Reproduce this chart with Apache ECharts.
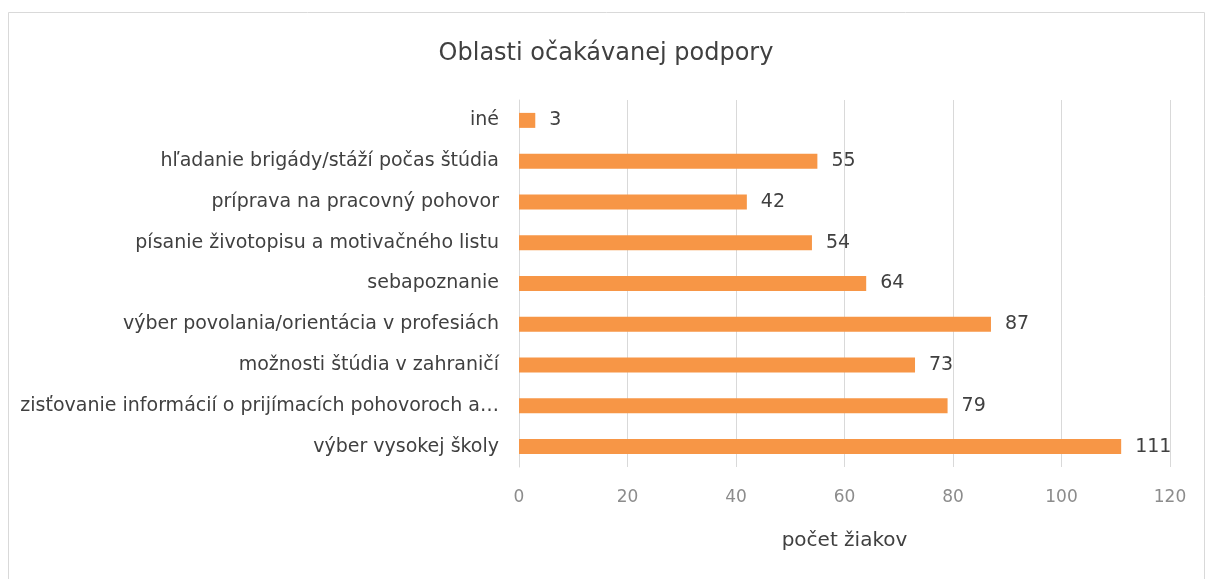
<!DOCTYPE html>
<html>
<head>
<meta charset="utf-8">
<script src="https://cdn.jsdelivr.net/npm/echarts@6/dist/echarts.min.js"></script>
<style>
  html, body { margin: 0; padding: 0; background: #fff; }
  #chart { width: 1212px; height: 579px; }
</style>
</head>
<body>
<div id="chart"></div>
<script>
// oblasti, zdola nahor ako v grafe
const categories = [
  'výber vysokej školy',
  'zisťovanie informácií o prijímacích pohovoroch a…',
  'možnosti štúdia v zahraničí',
  'výber povolania/orientácia v profesiách',
  'sebapoznanie',
  'písanie životopisu a motivačného listu',
  'príprava na pracovný pohovor',
  'hľadanie brigády/stáží počas štúdia',
  'iné'
]
const counts = [111, 79, 73, 87, 64, 54, 42, 55, 3]
const xTicks = [0, 20, 40, 60, 80, 100, 120]

const font = '"DejaVu Sans", "Noto Sans", sans-serif'
const chart = echarts.init(document.getElementById('chart'))

chart.setOption({
  animation: false,
  backgroundColor: '#fff',
  graphic: [{
    type: 'rect',
    shape: { x: 8.5, y: 12.5, width: 1196, height: 580 },
    style: { fill: 'none', stroke: '#d9d9d9', lineWidth: 1 }
  }],
  title: {
    text: 'Oblasti očakávanej podpory',
    left: 'center',
    top: 37,
    textStyle: { fontFamily: font, fontSize: 24, fontWeight: 'normal', color: '#404040' }
  },
  grid: { left: 519, right: 42, top: 100, bottom: 112, containLabel: false },
  xAxis: {
    type: 'value',
    min: xTicks[0],
    max: xTicks[xTicks.length - 1],
    interval: 20,
    name: 'počet žiakov',
    nameLocation: 'middle',
    nameGap: 64,
    nameTextStyle: { fontFamily: font, fontSize: 20, color: '#404040' },
    axisLine: { show: false },
    axisTick: { show: false },
    axisLabel: { fontFamily: font, fontSize: 17, color: '#8c8c8c', margin: 22 },
    splitLine: { lineStyle: { color: '#d9d9d9', width: 1 } }
  },
  yAxis: {
    type: 'category',
    data: categories,
    axisLine: { show: true, lineStyle: { color: '#d9d9d9' } },
    axisTick: { show: false },
    axisLabel: { fontFamily: font, fontSize: 19, color: '#404040', margin: 20 }
  },
  series: [{
    type: 'bar',
    data: counts,
    barWidth: 15,
    itemStyle: { color: '#f79646' },
    label: {
      show: true,
      position: 'right',
      distance: 14,
      fontFamily: font,
      fontSize: 19,
      color: '#404040'
    }
  }]
})
</script>
</body>
</html>
